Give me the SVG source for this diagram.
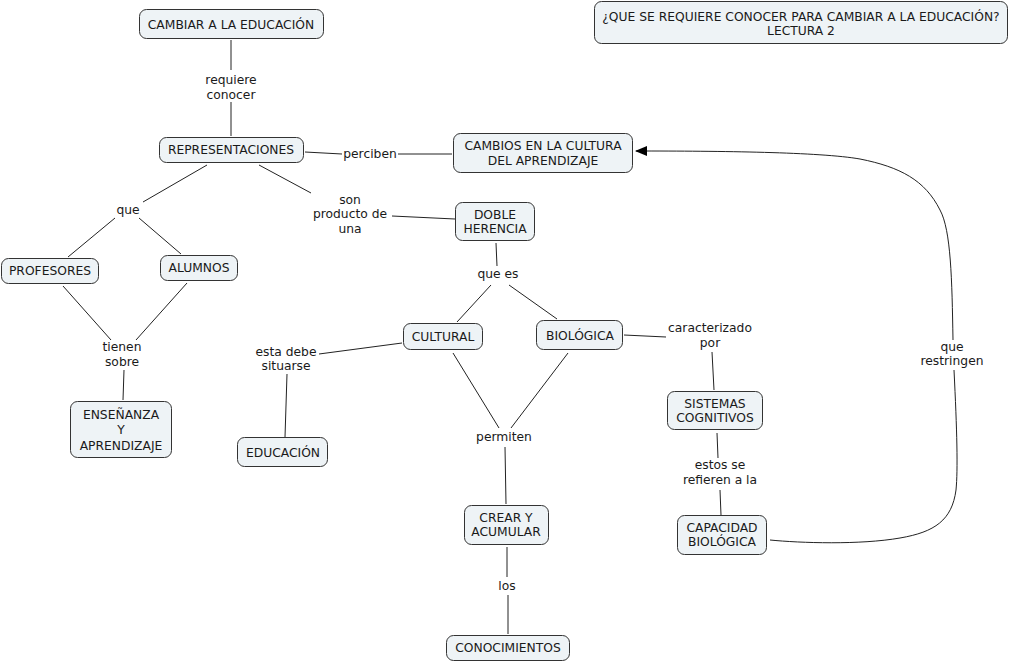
<svg xmlns="http://www.w3.org/2000/svg" width="1009" height="663" viewBox="0 0 1009 663">
<style>
.n{fill:#eef3f6;stroke:#333;stroke-width:1}
.t{font-family:"DejaVu Sans",Verdana,sans-serif;font-size:12.3px;fill:#1a1a1a;text-anchor:middle}
.c{stroke:#222;stroke-width:1;fill:none}
</style>
<defs>
<marker id="ah" markerWidth="12" markerHeight="10" refX="11" refY="5" orient="auto" markerUnits="userSpaceOnUse">
<path d="M0,0 L12,5 L0,10 Z" fill="#000"/>
</marker>
</defs>
<rect width="1009" height="663" fill="#fff"/>
<g id="connectors">
<line class="c" x1="231" y1="40" x2="231" y2="70"/>
<line class="c" x1="231" y1="102" x2="231" y2="136"/>
<line class="c" x1="305" y1="152" x2="342" y2="154"/>
<line class="c" x1="398" y1="154" x2="452" y2="154"/>
<line class="c" x1="207" y1="165" x2="143" y2="202"/>
<line class="c" x1="115" y1="218" x2="68" y2="257"/>
<line class="c" x1="139" y1="218" x2="181" y2="254"/>
<line class="c" x1="259" y1="165" x2="311" y2="193"/>
<line class="c" x1="392" y1="216" x2="455" y2="219"/>
<line class="c" x1="496" y1="243" x2="497" y2="266"/>
<line class="c" x1="491" y1="285" x2="457" y2="322"/>
<line class="c" x1="509" y1="285" x2="557" y2="319"/>
<line class="c" x1="63" y1="286" x2="111" y2="340"/>
<line class="c" x1="187" y1="283" x2="136" y2="340"/>
<line class="c" x1="124" y1="370" x2="123" y2="400"/>
<line class="c" x1="402" y1="343" x2="319" y2="354"/>
<line class="c" x1="287" y1="374" x2="285" y2="437"/>
<line class="c" x1="453" y1="353" x2="499" y2="428"/>
<line class="c" x1="568" y1="353" x2="511" y2="428"/>
<line class="c" x1="505" y1="447" x2="506" y2="504"/>
<line class="c" x1="507" y1="547" x2="507" y2="577"/>
<line class="c" x1="508" y1="595" x2="508" y2="634"/>
<line class="c" x1="624" y1="335" x2="666" y2="337"/>
<line class="c" x1="712" y1="352" x2="714" y2="390"/>
<line class="c" x1="717" y1="433" x2="718" y2="458"/>
<line class="c" x1="720" y1="490" x2="721" y2="515"/>
<path class="c" d="M953,340 C952,280 951,230 940,210 C925,180 900,167 860,159 C820,152 720,151 636,151" marker-end="url(#ah)"/>
<path class="c" d="M954,370 C957,430 958,470 956,490 C952,520 935,532 900,538 C860,545 800,543 770,540"/>
</g>
<g id="title"><rect class="n" x="594.5" y="1.5" width="413" height="42" rx="7"/><text class="t" x="801" y="21">¿QUE SE REQUIERE CONOCER PARA CAMBIAR A LA EDUCACIÓN?</text><text class="t" x="801" y="35">LECTURA 2</text></g>
<g id="cambiar"><rect class="n" x="139.5" y="9.5" width="184" height="29" rx="7"/><text class="t" x="231" y="29">CAMBIAR A LA EDUCACIÓN</text></g>
<g id="requiere"><text class="t" x="231" y="84">requiere</text><text class="t" x="231" y="99">conocer</text></g>
<g id="representaciones"><rect class="n" x="159.5" y="137.5" width="144" height="25" rx="7"/><text class="t" x="231" y="154">REPRESENTACIONES</text></g>
<g id="perciben"><text class="t" x="370" y="158">perciben</text></g>
<g id="cambios"><rect class="n" x="453.5" y="133.5" width="179" height="39" rx="7"/><text class="t" x="543" y="150">CAMBIOS EN LA CULTURA</text><text class="t" x="543" y="165">DEL APRENDIZAJE</text></g>
<g id="que"><text class="t" x="128" y="214">que</text></g>
<g id="son"><text class="t" x="350" y="204">son</text><text class="t" x="350" y="218">producto de</text><text class="t" x="350" y="233">una</text></g>
<g id="doble"><rect class="n" x="455.5" y="202.5" width="79" height="38" rx="7"/><text class="t" x="495" y="219">DOBLE</text><text class="t" x="495" y="233">HERENCIA</text></g>
<g id="profesores"><rect class="n" x="1.5" y="258.5" width="97" height="25" rx="7"/><text class="t" x="50" y="275">PROFESORES</text></g>
<g id="alumnos"><rect class="n" x="160.5" y="255.5" width="77" height="25" rx="7"/><text class="t" x="199" y="272">ALUMNOS</text></g>
<g id="quees"><text class="t" x="498" y="278">que es</text></g>
<g id="tienen"><text class="t" x="122" y="351">tienen</text><text class="t" x="122" y="366">sobre</text></g>
<g id="ensenanza"><rect class="n" x="70.5" y="401.5" width="101" height="56" rx="7"/><text class="t" x="121" y="419">ENSEÑANZA</text><text class="t" x="121" y="434">Y</text><text class="t" x="121" y="450">APRENDIZAJE</text></g>
<g id="cultural"><rect class="n" x="403.5" y="323.5" width="79" height="26" rx="7"/><text class="t" x="443" y="341">CULTURAL</text></g>
<g id="biologica"><rect class="n" x="536.5" y="320.5" width="86" height="29" rx="7"/><text class="t" x="580" y="340">BIOLÓGICA</text></g>
<g id="caracterizado"><text class="t" x="710" y="332">caracterizado</text><text class="t" x="710" y="347">por</text></g>
<g id="esta"><text class="t" x="286" y="356">esta debe</text><text class="t" x="286" y="370">situarse</text></g>
<g id="educacion"><rect class="n" x="237.5" y="437.5" width="90" height="29" rx="7"/><text class="t" x="283" y="457">EDUCACIÓN</text></g>
<g id="sistemas"><rect class="n" x="667.5" y="391.5" width="95" height="38" rx="7"/><text class="t" x="715" y="408">SISTEMAS</text><text class="t" x="715" y="422">COGNITIVOS</text></g>
<g id="permiten"><text class="t" x="504" y="441">permiten</text></g>
<g id="estos"><text class="t" x="720" y="469">estos se</text><text class="t" x="720" y="484">refieren a la</text></g>
<g id="crear"><rect class="n" x="464.5" y="505.5" width="84" height="39" rx="7"/><text class="t" x="506" y="522">CREAR Y</text><text class="t" x="506" y="536">ACUMULAR</text></g>
<g id="capacidad"><rect class="n" x="677.5" y="515.5" width="89" height="39" rx="7"/><text class="t" x="722" y="532">CAPACIDAD</text><text class="t" x="722" y="546">BIOLÓGICA</text></g>
<g id="restringen"><text class="t" x="952" y="351">que</text><text class="t" x="952" y="365">restringen</text></g>
<g id="los"><text class="t" x="507" y="590">los</text></g>
<g id="conocimientos"><rect class="n" x="446.5" y="635.5" width="123" height="25" rx="7"/><text class="t" x="508" y="652">CONOCIMIENTOS</text></g>
</svg>
